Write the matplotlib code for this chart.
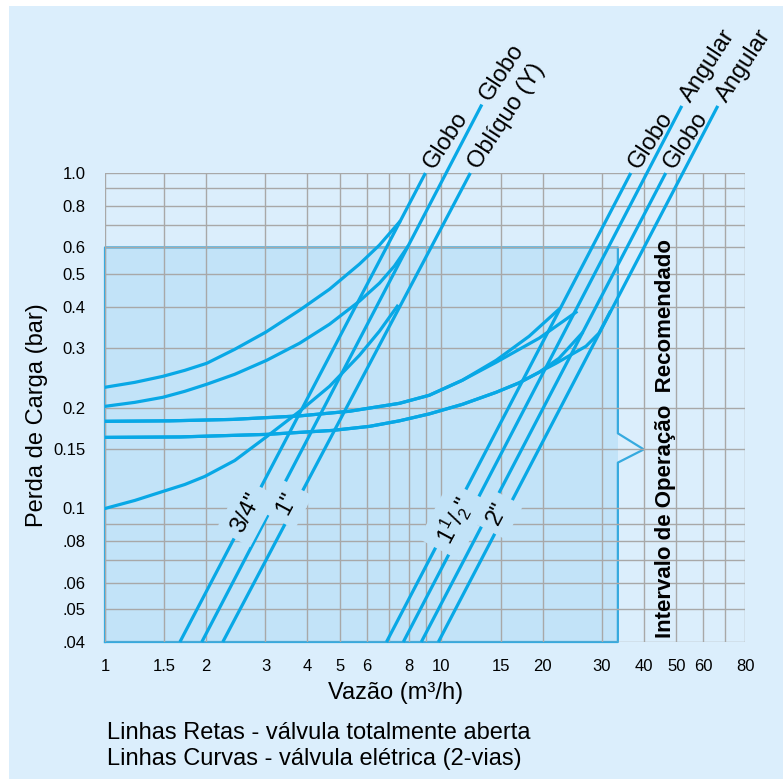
import numpy as np
import matplotlib.pyplot as plt
from matplotlib.patches import Rectangle

plt.rcParams['font.family'] = ['Liberation Sans', 'DejaVu Sans']
plt.rcParams['mathtext.fontset'] = 'custom'
plt.rcParams['mathtext.rm'] = 'Liberation Sans'
plt.rcParams['mathtext.default'] = 'regular'

# eixos
x_ticks = [1, 1.5, 2, 3, 4, 5, 6, 8, 10, 15, 20, 30, 40, 50, 60, 80]
x_labels = ['1', '1.5', '2', '3', '4', '5', '6', '8', '10', '15', '20', '30', '40', '50', '60', '80']
x_extra_grid = [7, 9, 70]
y_ticks = [1.0, 0.8, 0.6, 0.5, 0.4, 0.3, 0.2, 0.15, 0.1, 0.08, 0.06, 0.05, 0.04]
y_labels = ['1.0', '0.8', '0.6', '0.5', '0.4', '0.3', '0.2', '0.15', '0.1', '.08', '.06', '.05', '.04']
y_extra_grid = [0.9, 0.7, 0.09, 0.07]

# linhas retas - valvula totalmente aberta (inicio em y=0.04)
reta_y0 = 0.04
reta_x0 = [1.67, 1.94, 2.24, 6.87, 7.71, 8.72, 9.8]
reta_x1 = [8.97, 13.2, 12.2, 36.6, 51.9, 46.5, 66.4]
reta_y1 = [1.0, 1.6, 1.0, 1.0, 1.585, 1.0, 1.585]
reta_nomes = ['Globo', 'Globo', 'Oblíquo (Y)', 'Globo', 'Angular', 'Globo', 'Angular']

# linhas curvas - valvula eletrica
c1_x = [1.0, 1.227, 1.486, 1.727, 2.007, 2.431, 3.004, 3.790, 4.652, 5.709, 6.546, 7.506]
c1_y = [0.2298, 0.2377, 0.2477, 0.2581, 0.2709, 0.2982, 0.3353, 0.3900, 0.4504, 0.5351, 0.6096, 0.7142]
c2_x = [1.0, 1.227, 1.486, 1.727, 2.007, 2.431, 3.025, 3.790, 4.652, 5.709, 6.546, 7.254, 7.93]
c2_y = [0.2016, 0.2072, 0.2145, 0.2235, 0.2346, 0.2512, 0.2765, 0.3109, 0.3542, 0.4149, 0.4694, 0.5279, 0.6013]
c3_x = [1.0, 1.227, 1.486, 1.727, 1.980, 2.431, 3.004, 3.790, 4.652, 5.709, 6.546, 7.40]
c3_y = [0.100, 0.1057, 0.1124, 0.1179, 0.1246, 0.1390, 0.1629, 0.1949, 0.2313, 0.2862, 0.3376, 0.4009]
c4_x = [1.0, 1.559, 2.398, 3.790, 5.333, 7.506, 9.208, 11.54, 14.56, 18.25, 22.39]
c4_y = [0.1819, 0.1825, 0.1843, 0.1888, 0.1949, 0.2058, 0.2175, 0.2410, 0.2765, 0.3262, 0.3927]
c5_x = [1.0, 1.559, 2.398, 3.790, 5.333, 7.506, 9.208, 11.54, 14.56, 19.54, 25.16]
c5_y = [0.1819, 0.1825, 0.1843, 0.1888, 0.1949, 0.2058, 0.2175, 0.2410, 0.2728, 0.3218, 0.3847]
c6_x = [1.0, 1.67, 3.025, 4.748, 6.114, 7.506, 9.208, 11.54, 14.56, 17.04, 19.54, 22.39, 26.20]
c6_y = [0.1629, 0.1634, 0.1663, 0.1709, 0.1757, 0.1825, 0.1914, 0.2043, 0.2220, 0.2369, 0.2547, 0.2804, 0.3330]
c7_x = [1.0, 1.67, 3.025, 4.748, 6.114, 7.506, 9.208, 11.54, 14.56, 17.04, 21.94, 26.93, 29.43, 31.73]
c7_y = [0.1629, 0.1634, 0.1663, 0.1709, 0.1757, 0.1825, 0.1914, 0.2043, 0.2220, 0.2369, 0.2709, 0.3045, 0.3330, 0.3847]
curvas = [(c1_x, c1_y), (c2_x, c2_y), (c3_x, c3_y), (c4_x, c4_y),
          (c5_x, c5_y), (c6_x, c6_y), (c7_x, c7_y)]

# tamanhos
tam_txt = ['3/4"', '1"', '1$^1$/$_2$"', '2"']
tam_x = [2.64, 3.47, 10.93, 14.66]
tam_y = [0.0973, 0.1035, 0.0921, 0.0966]

# intervalo recomendado
faixa_x = [1, 33.5]
faixa_y = [0.04, 0.6]
seta_x = 40
seta_y = [0.1675, 0.15, 0.137]

fundo = '#dbeefc'
sombra = '#c2e3f8'
azul = '#08a8e6'
borda = '#36aadf'
cinza = '#a8a8a8'

fig = plt.figure(figsize=(7.83, 7.79), dpi=100)
fig.patch.set_facecolor('white')
fig.patches.append(Rectangle((9 / 783, 0), 1, 1 - 6 / 779, transform=fig.transFigure,
                             fc=fundo, ec='none', zorder=-10))

ax = fig.add_axes([105 / 783, 137 / 779, 640 / 783, 469 / 779])
ax.set_facecolor(fundo)
ax.set_xscale('log')
ax.set_yscale('log')
ax.set_xlim(1, 80)
ax.set_ylim(0.04, 1.0)
for s in ax.spines.values():
    s.set_visible(False)

ax.set_xticks(x_ticks)
ax.set_xticklabels(x_labels)
ax.set_xticks(x_extra_grid, minor=True)
ax.set_yticks(y_ticks)
ax.set_yticklabels(y_labels)
ax.set_yticks(y_extra_grid, minor=True)
ax.xaxis.set_minor_formatter(plt.NullFormatter())
ax.yaxis.set_minor_formatter(plt.NullFormatter())
ax.tick_params(which='both', length=0, labelsize=12)
ax.tick_params(axis='x', pad=12)
ax.tick_params(axis='y', pad=14)
ax.grid(True, which='both', color=cinza, lw=1.0, zorder=1)
ax.set_axisbelow(False)
for gl in ax.get_xgridlines() + ax.get_ygridlines():
    gl.set_zorder(1)

# area sombreada
ax.fill_between(faixa_x, faixa_y[0], faixa_y[1], color=sombra, lw=0, zorder=0.5)
ox = [faixa_x[0], faixa_x[0], faixa_x[1], faixa_x[1], seta_x, faixa_x[1], faixa_x[1], faixa_x[0]]
oy = [faixa_y[0], faixa_y[1], faixa_y[1], seta_y[0], seta_y[1], seta_y[2], faixa_y[0], faixa_y[0]]
ax.plot(ox, oy, color=borda, lw=1.6, zorder=2, clip_on=False)

ax.text(46.5, 0.162, 'Intervalo de Operação  Recomendado', rotation=90, ha='center', va='center',
        fontsize=16, fontweight='bold', color='black', zorder=5)

# linhas retas
for x0, x1, y1, nome in zip(reta_x0, reta_x1, reta_y1, reta_nomes):
    ax.plot([x0, x1], [reta_y0, y1], color=azul, lw=2.3, zorder=3, clip_on=False,
            solid_capstyle='butt')
    ax.annotate(nome, (x1, y1), xytext=(2.5, 4.5), textcoords='offset points',
                rotation=57, rotation_mode='anchor', ha='left', va='center',
                fontsize=17, annotation_clip=False)

# linhas curvas
for cx, cy in curvas:
    ax.plot(cx, cy, color=azul, lw=2.3, zorder=3, solid_joinstyle='round')

# rotulos de tamanho
for t, tx, ty in zip(tam_txt, tam_x, tam_y):
    ax.text(tx, ty, t, rotation=62, ha='center', va='center', rotation_mode='anchor',
            fontsize=17, zorder=6,
            bbox=dict(boxstyle='square,pad=0.35', fc=sombra, ec='none'))

fig.text(396 / 783, 1 - 693 / 779, 'Vazão (m³/h)', ha='center', va='center', fontsize=17)
fig.text(37 / 783, 1 - 415 / 779, 'Perda de Carga (bar)', ha='center', va='center',
         rotation=90, fontsize=17)
fig.text(107 / 783, 1 - 733 / 779, 'Linhas Retas - válvula totalmente aberta',
         ha='left', va='center', fontsize=17)
fig.text(107 / 783, 1 - 759 / 779, 'Linhas Curvas - válvula elétrica (2-vias)',
         ha='left', va='center', fontsize=17)

fig.savefig('out.png', dpi=100, facecolor=fig.get_facecolor())
